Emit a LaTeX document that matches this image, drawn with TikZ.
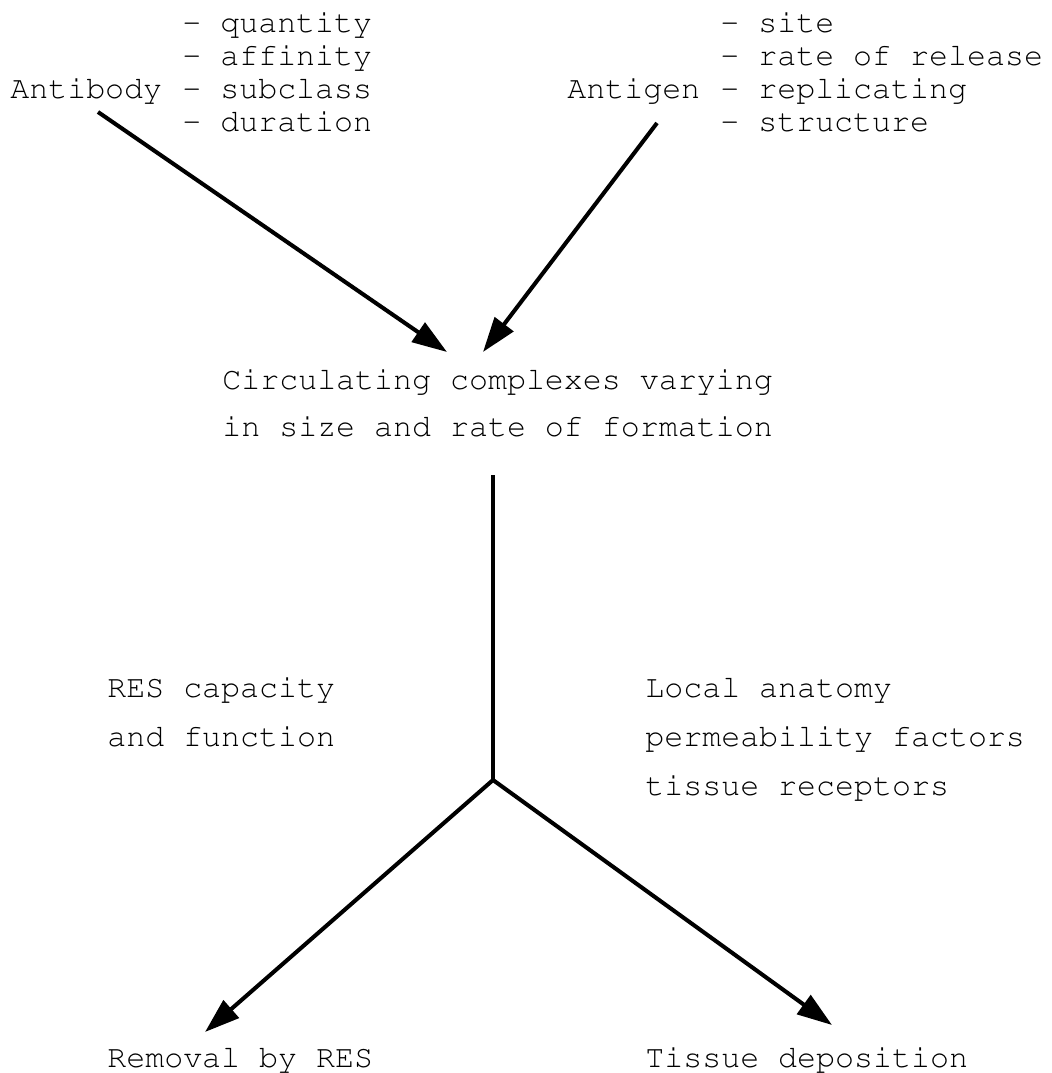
\documentclass[tikz,border=0pt]{standalone}
\usepackage[T1,TU]{fontenc}
\usetikzlibrary{arrows.meta}
\tikzset{
  txt/.style={anchor=base west,inner sep=0pt},
  arr/.style={line width=2.3pt,-{Triangle[length=7mm,width=4.6mm]}}
}
\begin{document}
\begin{tikzpicture}[font=\fontencoding{T1}\fontfamily{pcr}\fontsize{18}{20}\selectfont]
 \useasboundingbox (0,0) rectangle (21.02,-21.46);
 % factors feeding the complexes
 \node[txt] (antibody) at (0.2,-1.98) {Antibody};
 \node[txt] (ab1) at (3.64,-0.66) {- quantity};
 \node[txt] (ab2) at (3.64,-1.32) {- affinity};
 \node[txt] (ab3) at (3.64,-1.98) {- subclass};
 \node[txt] (ab4) at (3.64,-2.64) {- duration};
 \node[txt] (antigen) at (11.34,-1.98) {Antigen};
 \node[txt] (ag1) at (14.4,-0.66) {- site};
 \node[txt] (ag2) at (14.4,-1.32) {- rate of release};
 \node[txt] (ag3) at (14.4,-1.98) {- replicating};
 \node[txt] (ag4) at (14.4,-2.64) {- structure};
 % complexes
 \node[txt] (circ1) at (4.44,-7.8) {Circulating complexes varying};
 \node[txt] (circ2) at (4.44,-8.74) {in size and rate of formation};
 % what decides the fate
 \node[txt] (res1) at (2.14,-13.94) {RES capacity};
 \node[txt] (res2) at (2.14,-14.92) {and function};
 \node[txt] (loc1) at (12.9,-13.94) {Local anatomy};
 \node[txt] (loc2) at (12.9,-14.92) {permeability factors};
 \node[txt] (loc3) at (12.9,-15.9) {tissue receptors};
 % outcomes
 \node[txt] (removal) at (2.14,-21.34) {Removal by RES};
 \node[txt] (deposit) at (12.9,-21.34) {Tissue deposition};
 \coordinate (abfrom) at (1.96,-2.24);
 \coordinate (agfrom) at (13.14,-2.46);
 \coordinate (abto) at (8.94,-7.04);
 \coordinate (agto) at (9.66,-7.04);
 \coordinate (stem) at (9.86,-9.5);
 \coordinate (hub) at (9.86,-15.6);
 \coordinate (remto) at (4.1,-20.64);
 \coordinate (depto) at (16.64,-20.5);
 \draw[arr] (abfrom) -- (abto);
 \draw[arr] (agfrom) -- (agto);
 \draw[line width=2.1pt] (stem) -- (hub);
 \draw[arr] (hub) -- (remto);
 \draw[arr] (hub) -- (depto);
\end{tikzpicture}
\end{document}
